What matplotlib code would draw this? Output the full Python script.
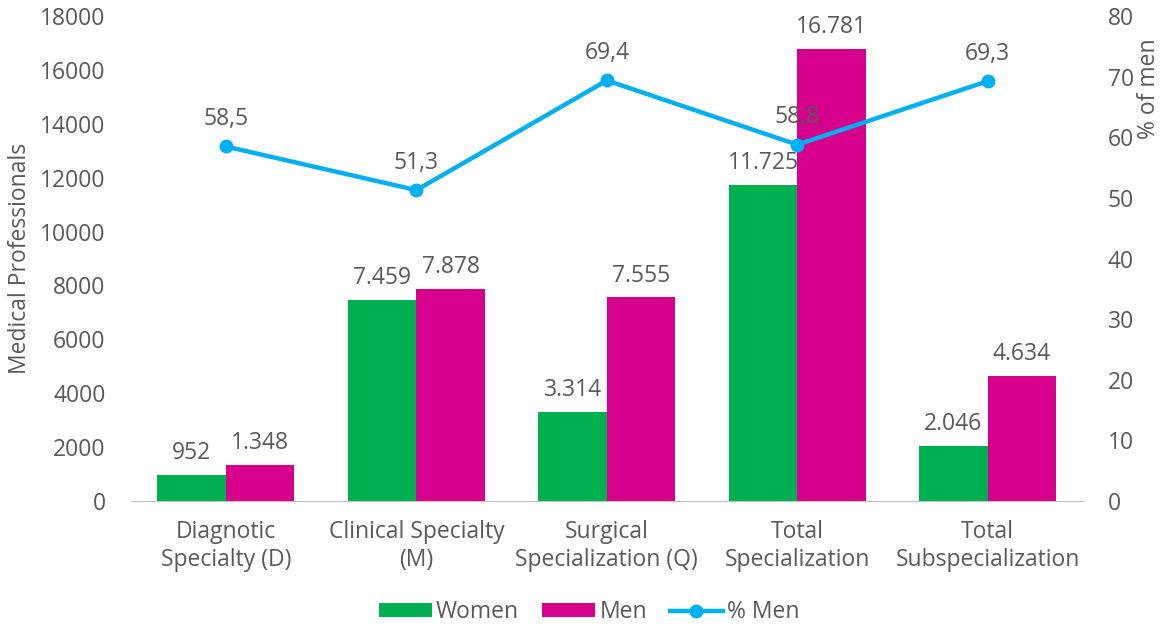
import numpy as np
import matplotlib.pyplot as plt

categories = ["Diagnotic\nSpecialty (D)", "Clinical Specialty\n(M)", "Surgical\nSpecialization (Q)",
              "Total\nSpecialization", "Total\nSubspecialization"]
women = [952, 7459, 3314, 11725, 2046]
men = [1348, 7878, 7555, 16781, 4634]
pct_men = [58.5, 51.3, 69.4, 58.8, 69.3]

GREEN = "#00B050"
MAGENTA = "#D6008C"
BLUE = "#00B0F0"
GREY = "#595959"
FS = 16.5

plt.rcParams['font.family'] = ['Open Sans', 'DejaVu Sans']
plt.rcParams['font.size'] = FS


def fmt(v):
    return f"{v:,}".replace(",", ".")


fig = plt.figure(figsize=(11.67, 6.26), dpi=100)
ax = fig.add_axes([0.112, 0.2, 0.816, 0.774])
x = np.arange(len(categories))
w = 0.36

b1 = ax.bar(x - w / 2, women, w, color=GREEN, label="Women")
b2 = ax.bar(x + w / 2, men, w, color=MAGENTA, label="Men")
for bars, vals in ((b1, women), (b2, men)):
    for r, v in zip(bars, vals):
        ax.annotate(fmt(v), (r.get_x() + r.get_width() / 2, v), xytext=(0, 7),
                    textcoords="offset points", ha="center", va="bottom",
                    color=GREY, fontsize=FS)

ax.set_xlim(-0.5, len(categories) - 0.5)
ax.set_ylim(0, 18000)
ax.set_yticks(range(0, 18001, 2000))
ax.set_xticks(x)
ax.set_xticklabels(categories, color=GREY, fontsize=FS, linespacing=1.2)
ax.tick_params(axis="y", colors=GREY, length=0, pad=18)
ax.tick_params(axis="x", length=0, pad=14)
ax.set_ylabel("Medical Professionals", color=GREY, fontsize=FS, labelpad=6)
for s in ("top", "right", "left"):
    ax.spines[s].set_visible(False)
ax.spines["bottom"].set_color("#BFBFBF")

# share of men on the secondary axis
ax2 = ax.twinx()
ln, = ax2.plot(x, pct_men, color=BLUE, lw=3.2, marker="o", ms=9, label="% Men")
for xi, p in zip(x, pct_men):
    ax2.annotate(f"{p:.1f}".replace(".", ","), (xi, p), xytext=(0, 11),
                 textcoords="offset points", ha="center", va="bottom",
                 color=GREY, fontsize=FS)
ax2.set_ylim(0, 80)
ax2.set_yticks(range(0, 81, 10))
ax2.tick_params(axis="y", colors=GREY, length=0, pad=18)
for s in ax2.spines.values():
    s.set_visible(False)
ax2.set_ylabel("% of men", color=GREY, fontsize=FS)
ax2.yaxis.set_label_coords(1.057, 0.85)

handles = [b1, b2, ln]
fig.legend(handles, ["Women", "Men", "% Men"], loc="lower center",
           bbox_to_anchor=(0.505, -0.03), ncol=3, frameon=False, fontsize=FS,
           labelcolor=GREY, handlelength=2.3, handleheight=0.5,
           handletextpad=0.2, columnspacing=1.0)

fig.savefig("out.png", dpi=100)
